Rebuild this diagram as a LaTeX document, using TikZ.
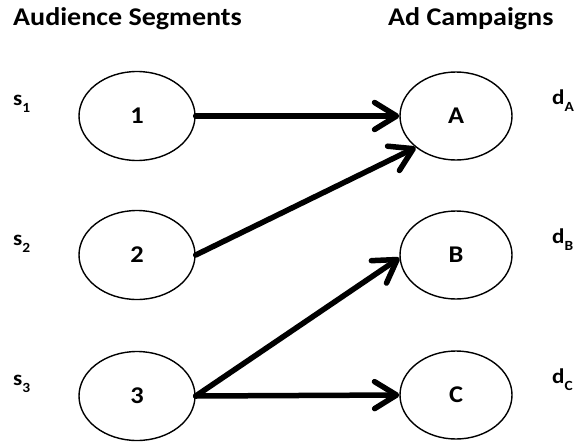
\documentclass[tikz,border=0pt]{standalone}
\usepackage{fontspec}
\setmainfont{Carlito}[FakeStretch=1.1]
\usetikzlibrary{shapes.geometric,arrows.meta}
\begin{document}
\begin{tikzpicture}[x=1pt,y=-1pt,
  seg/.style={ellipse,draw,line width=1.4pt,minimum width=116pt,minimum height=89pt,inner sep=0pt,
    font=\fontsize{24}{26}\selectfont\bfseries},
  title/.style={anchor=base west,inner sep=0pt,font=\fontsize{25.5}{28}\selectfont\bfseries},
  side/.style={anchor=base west,inner sep=0pt,font=\fontsize{21}{24}\selectfont\bfseries},
  flow/.style={line width=5.5pt,line cap=round,-{Straight Barb[length=22pt,width=27pt,round]}}]
\useasboundingbox (0,0) rectangle (580,444);
\node[title] (t1) at (13,26) {Audience Segments};
\node[title] (t2) at (388,26) {Ad Campaigns};
\node[seg] (n1) at (137,116) {1};
\node[seg] (n2) at (137,255) {2};
\node[seg] (n3) at (137,396) {3};
\node[seg,minimum width=112pt,minimum height=88pt] (A) at (456,116) {A};
\node[seg,minimum width=112pt,minimum height=88pt] (B) at (456,255) {B};
\node[seg,minimum width=112pt,minimum height=88pt] (C) at (456,395) {C};
\newcommand{\sublab}[1]{\raisebox{-7pt}{\fontsize{14}{15}\selectfont #1}}
\node[side] (s1) at (13,105) {s\sublab{1}};
\node[side] (s2) at (13,245) {s\sublab{2}};
\node[side] (s3) at (13,385) {s\sublab{3}};
\node[side] (dA) at (552,104) {d\sublab{A}};
\node[side] (dB) at (552,243) {d\sublab{B}};
\node[side] (dC) at (552,383) {d\sublab{C}};
\draw[flow] (n1.east) -- (A.west);
\draw[flow] (n2.east) -- (A.218);
\draw[flow] (n3.east) -- (B.183);
\draw[flow] (n3.east) -- (C.west);
\end{tikzpicture}
\end{document}
